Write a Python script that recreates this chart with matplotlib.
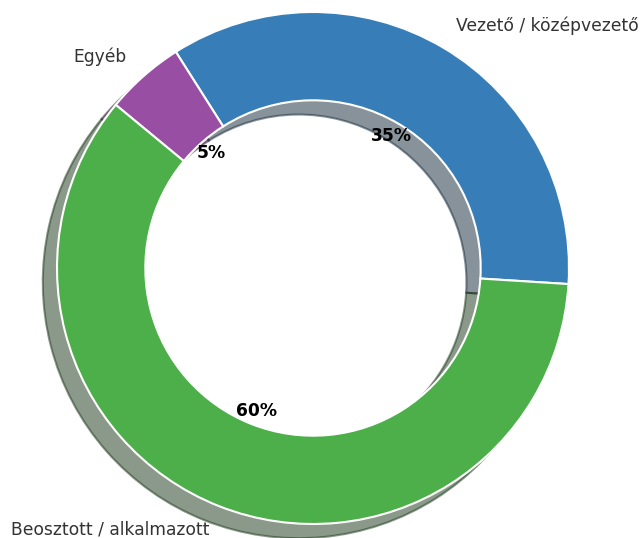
import matplotlib
matplotlib.use('Agg')
import matplotlib.pyplot as plt

# Position categories and their share (%)
labels = ['Vezető / középvezető', 'Egyéb', 'Beosztott / alkalmazott']
shares = [35, 5, 60]
colors = ['#377eb8', '#984ea3', '#4daf4a']

fig = plt.figure(figsize=(6.4, 5.38), dpi=100)
ax = fig.add_axes([0, 0, 1, 1])

wedges, texts, autotexts = ax.pie(
    shares, labels=labels, colors=colors, startangle=-3.6,
    autopct='%1.0f%%', pctdistance=0.6, labeldistance=1.1,
    shadow={'ox': -0.04, 'oy': -0.04},
    wedgeprops={'width': 0.345, 'edgecolor': 'white', 'linewidth': 1.5},
    textprops={'fontsize': 12.3, 'color': '#333333'})

for t in autotexts:
    t.set_fontweight('bold')
    t.set_color('black')

# 1 data unit = 256 px, donut centred at (313, 270) px
ax.set_xlim(-313 / 256, 327 / 256)
ax.set_ylim(-270 / 256, 268 / 256)
ax.set_aspect('auto')

plt.savefig('out.png', dpi=100)
plt.close()
